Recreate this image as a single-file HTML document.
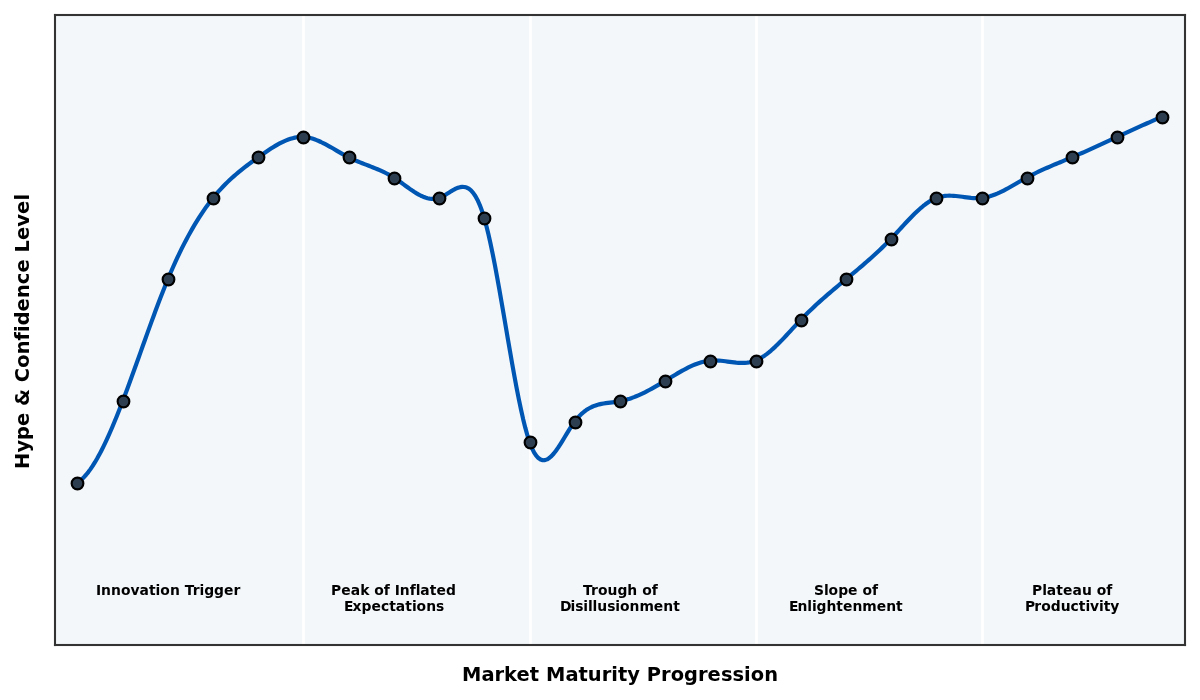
<!DOCTYPE html>
<html lang="en"><head><meta charset="utf-8"><title>Hype Cycle</title>
<style>
html,body{margin:0;padding:0;background:#fff;overflow:hidden}
svg{display:block}
text{font-family:"DejaVu Sans","Liberation Sans",sans-serif;font-weight:bold;fill:#000;text-anchor:start;white-space:pre}
.lab text{font-size:13.889px}
.ax{font-size:19.444px}
</style></head><body>
<svg width="1200" height="700" viewBox="0 0 1200 700">
<rect x="0" y="0" width="1200" height="700" fill="#fff"/>
<rect x="54.83" y="15" width="1130.17" height="630.17" fill="#f3f7fa"/>
<g stroke="#fff" stroke-width="2.778"><line x1="303.5" y1="15" x2="303.5" y2="645.17"/><line x1="530.5" y1="15" x2="530.5" y2="645.17"/><line x1="756.5" y1="15" x2="756.5" y2="645.17"/><line x1="982.5" y1="15" x2="982.5" y2="645.17"/></g>
<polyline points="77.44,482.54 79.61,481.06 81.79,479.26 83.96,477.16 86.13,474.76 88.31,472.08 90.48,469.13 92.66,465.93 94.83,462.47 97.01,458.78 99.18,454.86 101.35,450.72 103.53,446.39 105.70,441.86 107.88,437.15 110.05,432.27 112.22,427.23 114.40,422.04 116.57,416.72 118.75,411.27 120.92,405.71 123.10,400.04 125.27,394.29 127.44,388.45 129.62,382.54 131.79,376.58 133.97,370.56 136.14,364.52 138.32,358.44 140.49,352.36 142.66,346.27 144.84,340.19 147.01,334.13 149.19,328.10 151.36,322.12 153.54,316.18 155.71,310.32 157.88,304.52 160.06,298.82 162.23,293.21 164.41,287.72 166.58,282.34 168.76,277.09 170.93,271.99 173.10,267.02 175.28,262.18 177.45,257.47 179.63,252.90 181.80,248.46 183.98,244.14 186.15,239.95 188.32,235.89 190.50,231.95 192.67,228.13 194.85,224.43 197.02,220.85 199.20,217.39 201.37,214.04 203.54,210.81 205.72,207.68 207.89,204.67 210.07,201.77 212.24,198.97 214.42,196.28 216.59,193.69 218.76,191.20 220.94,188.81 223.11,186.50 225.29,184.27 227.46,182.12 229.64,180.04 231.81,178.04 233.98,176.09 236.16,174.21 238.33,172.38 240.51,170.60 242.68,168.86 244.86,167.16 247.03,165.50 249.20,163.87 251.38,162.27 253.55,160.68 255.73,159.11 257.90,157.55 260.08,156.00 262.25,154.47 264.42,152.95 266.60,151.45 268.77,149.99 270.95,148.57 273.12,147.20 275.30,145.88 277.47,144.62 279.64,143.43 281.82,142.32 283.99,141.29 286.17,140.35 288.34,139.51 290.51,138.78 292.69,138.16 294.86,137.65 297.04,137.27 299.21,137.03 301.39,136.93 303.56,136.97 305.73,137.17 307.91,137.51 310.08,137.98 312.26,138.58 314.43,139.29 316.61,140.11 318.78,141.01 320.95,142.00 323.13,143.06 325.30,144.18 327.48,145.35 329.65,146.56 331.83,147.80 334.00,149.06 336.17,150.33 338.35,151.60 340.52,152.86 342.70,154.09 344.87,155.30 347.05,156.46 349.22,157.57 351.39,158.62 353.57,159.62 355.74,160.57 357.92,161.49 360.09,162.37 362.27,163.24 364.44,164.08 366.61,164.92 368.79,165.76 370.96,166.60 373.14,167.45 375.31,168.33 377.49,169.23 379.66,170.16 381.83,171.14 384.01,172.17 386.18,173.25 388.36,174.39 390.53,175.60 392.71,176.89 394.88,178.26 397.05,179.72 399.23,181.23 401.40,182.79 403.58,184.37 405.75,185.96 407.93,187.53 410.10,189.08 412.27,190.58 414.45,192.01 416.62,193.36 418.80,194.61 420.97,195.73 423.15,196.72 425.32,197.54 427.49,198.20 429.67,198.65 431.84,198.90 434.02,198.91 436.19,198.68 438.37,198.18 440.54,197.40 442.71,196.37 444.89,195.16 447.06,193.84 449.24,192.46 451.41,191.10 453.59,189.82 455.76,188.69 457.93,187.78 460.11,187.14 462.28,186.85 464.46,186.96 466.63,187.56 468.80,188.69 470.98,190.44 473.15,192.86 475.33,196.01 477.50,199.98 479.68,204.81 481.85,210.58 484.02,217.36 486.20,225.18 488.37,233.99 490.55,243.67 492.72,254.11 494.90,265.20 497.07,276.84 499.24,288.91 501.42,301.31 503.59,313.92 505.77,326.65 507.94,339.36 510.12,351.97 512.29,364.36 514.46,376.42 516.64,388.04 518.81,399.11 520.99,409.52 523.16,419.16 525.34,427.93 527.51,435.71 529.68,442.40 531.86,447.92 534.03,452.33 536.21,455.69 538.38,458.08 540.56,459.57 542.73,460.24 544.90,460.16 547.08,459.39 549.25,458.02 551.43,456.12 553.60,453.75 555.78,450.99 557.95,447.92 560.12,444.61 562.30,441.13 564.47,437.54 566.65,433.94 568.82,430.38 571.00,426.94 573.17,423.70 575.34,420.72 577.52,418.05 579.69,415.68 581.87,413.57 584.04,411.73 586.22,410.12 588.39,408.72 590.56,407.53 592.74,406.51 594.91,405.66 597.09,404.95 599.26,404.36 601.44,403.87 603.61,403.47 605.78,403.13 607.96,402.84 610.13,402.58 612.31,402.33 614.48,402.06 616.66,401.77 618.83,401.43 621.00,401.02 623.18,400.53 625.35,399.98 627.53,399.35 629.70,398.66 631.88,397.91 634.05,397.10 636.22,396.23 638.40,395.31 640.57,394.34 642.75,393.32 644.92,392.26 647.10,391.16 649.27,390.02 651.44,388.85 653.62,387.64 655.79,386.42 657.97,385.16 660.14,383.89 662.31,382.59 664.49,381.29 666.66,379.97 668.84,378.64 671.01,377.32 673.19,376.00 675.36,374.70 677.53,373.41 679.71,372.15 681.88,370.92 684.06,369.73 686.23,368.58 688.41,367.48 690.58,366.43 692.75,365.45 694.93,364.54 697.10,363.70 699.28,362.95 701.45,362.28 703.63,361.70 705.80,361.22 707.97,360.85 710.15,360.59 712.32,360.45 714.50,360.41 716.67,360.46 718.85,360.59 721.02,360.78 723.19,361.02 725.37,361.29 727.54,361.58 729.72,361.88 731.89,362.16 734.07,362.42 736.24,362.64 738.41,362.81 740.59,362.90 742.76,362.92 744.94,362.84 747.11,362.65 749.29,362.33 751.46,361.87 753.63,361.25 755.81,360.47 757.98,359.51 760.16,358.37 762.33,357.08 764.51,355.64 766.68,354.07 768.85,352.37 771.03,350.55 773.20,348.63 775.38,346.62 777.55,344.52 779.73,342.35 781.90,340.12 784.07,337.85 786.25,335.53 788.42,333.19 790.60,330.83 792.77,328.46 794.95,326.10 797.12,323.76 799.29,321.44 801.47,319.16 803.64,316.93 805.82,314.74 807.99,312.59 810.17,310.48 812.34,308.40 814.51,306.36 816.69,304.34 818.86,302.36 821.04,300.41 823.21,298.48 825.39,296.57 827.56,294.69 829.73,292.82 831.91,290.97 834.08,289.13 836.26,287.31 838.43,285.49 840.60,283.69 842.78,281.89 844.95,280.09 847.13,278.29 849.30,276.49 851.48,274.69 853.65,272.88 855.82,271.07 858.00,269.24 860.17,267.41 862.35,265.56 864.52,263.69 866.70,261.80 868.87,259.89 871.04,257.96 873.22,256.01 875.39,254.02 877.57,252.01 879.74,249.96 881.92,247.88 884.09,245.77 886.26,243.61 888.44,241.41 890.61,239.17 892.79,236.89 894.96,234.57 897.14,232.22 899.31,229.86 901.48,227.49 903.66,225.12 905.83,222.78 908.01,220.46 910.18,218.19 912.36,215.96 914.53,213.80 916.70,211.71 918.88,209.70 921.05,207.79 923.23,205.98 925.40,204.29 927.58,202.73 929.75,201.31 931.92,200.04 934.10,198.93 936.27,197.99 938.45,197.23 940.62,196.64 942.80,196.20 944.97,195.91 947.14,195.74 949.32,195.68 951.49,195.71 953.67,195.83 955.84,196.01 958.02,196.24 960.19,196.51 962.36,196.80 964.54,197.10 966.71,197.39 968.89,197.65 971.06,197.88 973.24,198.05 975.41,198.15 977.58,198.18 979.76,198.10 981.93,197.91 984.11,197.60 986.28,197.18 988.46,196.64 990.63,196.01 992.80,195.28 994.98,194.47 997.15,193.58 999.33,192.62 1001.50,191.59 1003.68,190.51 1005.85,189.39 1008.02,188.22 1010.20,187.02 1012.37,185.80 1014.55,184.56 1016.72,183.31 1018.89,182.06 1021.07,180.81 1023.24,179.58 1025.42,178.37 1027.59,177.18 1029.77,176.03 1031.94,174.91 1034.11,173.82 1036.29,172.75 1038.46,171.71 1040.64,170.69 1042.81,169.70 1044.99,168.72 1047.16,167.75 1049.33,166.80 1051.51,165.87 1053.68,164.94 1055.86,164.03 1058.03,163.12 1060.21,162.21 1062.38,161.31 1064.55,160.40 1066.73,159.50 1068.90,158.59 1071.08,157.68 1073.25,156.76 1075.43,155.83 1077.60,154.89 1079.77,153.95 1081.95,153.00 1084.12,152.04 1086.30,151.08 1088.47,150.11 1090.65,149.13 1092.82,148.16 1094.99,147.17 1097.17,146.18 1099.34,145.19 1101.52,144.20 1103.69,143.20 1105.87,142.20 1108.04,141.20 1110.21,140.19 1112.39,139.19 1114.56,138.18 1116.74,137.18 1118.91,136.17 1121.09,135.16 1123.26,134.16 1125.43,133.15 1127.61,132.15 1129.78,131.15 1131.96,130.15 1134.13,129.16 1136.31,128.16 1138.48,127.17 1140.65,126.19 1142.83,125.21 1145.00,124.23 1147.18,123.26 1149.35,122.30 1151.53,121.34 1153.70,120.38 1155.87,119.44 1158.05,118.50 1160.22,117.56 1162.40,116.64" fill="none" stroke="#0056b3" stroke-width="4.167" stroke-linejoin="round" stroke-linecap="butt"/>
<g fill="#2c3e50" stroke="#000" stroke-width="2.15"><circle cx="77.5" cy="483.5" r="5.85"/><circle cx="123.5" cy="401.5" r="5.85"/><circle cx="168.5" cy="279.5" r="5.85"/><circle cx="213.5" cy="198.5" r="5.85"/><circle cx="258.5" cy="157.5" r="5.85"/><circle cx="303.5" cy="137.5" r="5.85"/><circle cx="349.5" cy="157.5" r="5.85"/><circle cx="394.5" cy="178.5" r="5.85"/><circle cx="439.5" cy="198.5" r="5.85"/><circle cx="484.5" cy="218.5" r="5.85"/><circle cx="530.5" cy="442.5" r="5.85"/><circle cx="575.5" cy="422.5" r="5.85"/><circle cx="620.5" cy="401.5" r="5.85"/><circle cx="665.5" cy="381.5" r="5.85"/><circle cx="710.5" cy="361.5" r="5.85"/><circle cx="756.5" cy="361.5" r="5.85"/><circle cx="801.5" cy="320.5" r="5.85"/><circle cx="846.5" cy="279.5" r="5.85"/><circle cx="891.5" cy="239.5" r="5.85"/><circle cx="936.5" cy="198.5" r="5.85"/><circle cx="982.5" cy="198.5" r="5.85"/><circle cx="1027.5" cy="178.5" r="5.85"/><circle cx="1072.5" cy="157.5" r="5.85"/><circle cx="1117.5" cy="137.5" r="5.85"/><circle cx="1162.5" cy="117.5" r="5.85"/></g>
<g class="lab">
<text x="96.00 101.12 111.00 120.88 130.50 139.50 149.00 155.62 160.25 169.88 179.75 184.78 192.75 199.62 204.25 214.12 224.00 233.50" y="595.00">Innovation Trigger</text>
<text x="331.00 341.25 350.75 360.25 369.37 374.25 383.87 389.87 394.75 399.87 409.75 415.75 420.37 429.87 436.50 446.00" y="595.00">Peak of Inflated</text>
<text x="343.94 352.54 361.54 371.42 380.92 389.17 395.79 405.29 411.92 416.54 426.17 436.04" y="610.90">Expectations</text>
<text x="582.98 591.11 597.98 607.61 617.48 627.36 637.23 642.26 651.73" y="595.00">Trough of</text>
<text x="560.00 570.45 575.22 583.32 587.95 592.57 597.20 607.22 615.32 619.95 629.57 639.45 653.82 663.32 673.20" y="610.90">Disillusionment</text>
<text x="813.97 823.97 828.59 838.22 848.09 857.59 862.47 872.09" y="595.00">Slope of</text>
<text x="788.90 797.40 807.28 811.90 816.53 826.40 836.28 842.90 852.40 862.28 876.65 886.15 896.03" y="610.90">Enlightenment</text>
<text x="1031.95 1042.20 1046.83 1056.33 1062.95 1072.45 1081.95 1091.83 1096.70 1106.33" y="595.00">Plateau of</text>
<text x="1024.98 1034.28 1041.15 1050.78 1060.65 1070.53 1078.78 1085.40 1090.03 1099.03 1103.65 1110.28" y="610.90">Productivity</text>
</g>
<g fill="#333"><rect x="53.9583" y="13.9583" width="2.0833" height="632.0833"/><rect x="1183.9583" y="13.9583" width="2.0833" height="632.0833"/><rect x="53.9583" y="643.9583" width="1132.0833" height="2.0833"/><rect x="53.9583" y="13.9583" width="1132.0833" height="2.0833"/></g>
<text class="ax" x="462.00 481.52 494.50 504.12 516.50 529.87 539.25 546.00 565.52 578.50 587.87 601.75 611.37 618.00 627.37 640.12 646.87 661.00 670.77 684.12 698.00 707.62 721.00 732.50 744.00 750.82 764.27" y="681.00">Market Maturity Progression</text>
<text class="ax" transform="translate(29.00,0) rotate(-90)" x="-468.96 -452.56 -439.96 -426.09 -412.71 -405.96 -388.96 -382.21 -367.84 -354.34 -340.46 -331.96 -325.34 -311.46 -298.09 -284.21 -272.59 -259.21 -252.46 -240.09 -226.71 -213.96 -200.59" y="0">Hype &amp; Confidence Level</text>
</svg>
</body></html>
